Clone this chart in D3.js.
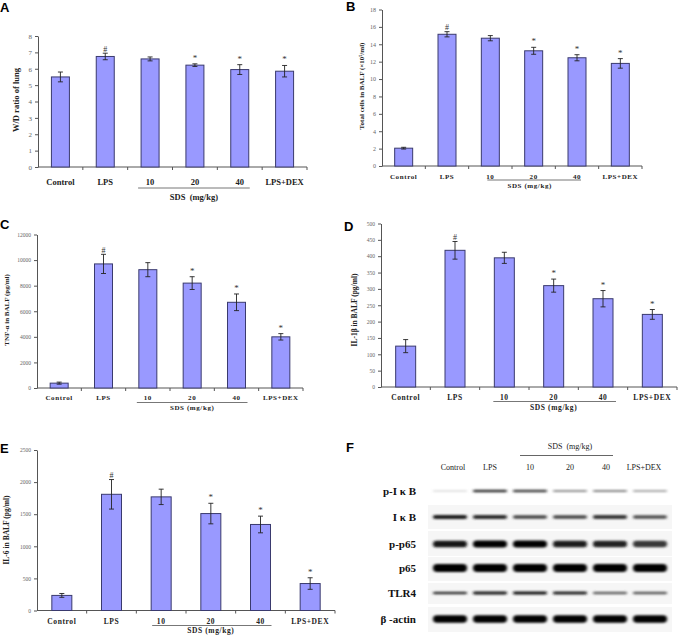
<!DOCTYPE html>
<html><head><meta charset="utf-8">
<script src="https://cdn.jsdelivr.net/npm/d3@7"></script>
<style>body{margin:0;background:#fff}svg{display:block}</style>
</head><body>
<svg id="c" width="680" height="635"></svg>
<script>
// ---------------- data ----------------
const categories = ["Control","LPS","10","20","40","LPS+DEX"];
const sigMarks   = ["","#","","*","*","*"];

const wdRatio    = [5.5, 6.75, 6.6, 6.22, 5.95, 5.85];
const wdErr      = [0.3, 0.2, 0.12, 0.08, 0.3, 0.35];
const wdTicks    = [0,1,2,3,4,5,6,7,8];

const totalCells = [2.05, 15.15, 14.7, 13.25, 12.45, 11.8];
const cellsErr   = [0.1, 0.3, 0.3, 0.4, 0.35, 0.55];
const cellsTicks = [0,2,4,6,8,10,12,14,16,18];

const tnf        = [380, 9700, 9250, 8200, 6700, 4000];
const tnfErr     = [80, 750, 550, 500, 650, 250];
const tnfTicks   = [0,2000,4000,6000,8000,10000,12000];

const il1b       = [125, 418, 395, 310, 270, 222];
const il1bErr    = [20, 27, 17, 20, 25, 15];
const il1bTicks  = [0,50,100,150,200,250,300,350,400,450,500];

const il6        = [235, 1810, 1770, 1510, 1340, 420];
const il6Err     = [30, 230, 120, 160, 130, 90];
const il6Ticks   = [0,500,1000,1500,2000,2500];

// western blot: relative band intensity per lane
const blotProteins = ["p-I\u03BAB","I\u03BAB","p-p65","p65","TLR4","\u03B2-actin"];
const blotLabels   = ["p-I \u03BA B","I \u03BA B","p-p65","p65","TLR4","\u03B2 -actin"];
const pIkB   = [0.08, 0.8, 0.75, 0.4, 0.45, 0.3];
const IkB    = [0.9, 0.82, 0.72, 0.72, 0.78, 0.68];
const pp65   = [0.92, 1.0, 1.0, 0.9, 0.88, 0.78];
const p65    = [1, 1, 1, 1, 1, 1];
const tlr4   = [0.8, 0.9, 0.92, 0.88, 0.6, 0.65];
const bActin = [1, 1, 1, 1, 1, 1];
const blotValues = [pIkB, IkB, pp65, p65, tlr4, bActin];

// ---------------- drawing ----------------
const svg = d3.select("#c");
svg.append("rect").attr("width",680).attr("height",635).attr("fill","#fff");

const serif = "'Liberation Serif','Times New Roman',serif";
const BAR_FILL = "#9999ff", BAR_EDGE = "#3a3a6e";

function barPanel(o){
  const g = svg.append("g");
  const x = d3.scaleBand().domain(categories).range([o.x0, o.x1]);
  const y = d3.scaleLinear().domain([0, d3.max(o.ticks)]).range([o.yb, o.yt]);
  const ya = g.append("g").attr("transform",`translate(${o.x0},0)`)
    .call(d3.axisLeft(y).tickValues(o.ticks).tickFormat(d3.format("d")).tickSize(3).tickPadding(3).tickSizeOuter(0));
  ya.select(".domain").attr("stroke","#555");
  ya.selectAll(".tick line").attr("stroke","#555");
  ya.selectAll(".tick text").attr("fill","#666").attr("font-family",serif).attr("font-size",o.tfs);
  const xa = g.append("g").attr("transform",`translate(0,${o.yb})`);
  xa.append("line").attr("x1",o.x0).attr("x2",o.x1).attr("stroke","#555");
  categories.forEach((c,i)=>{ if(i>0){ const bx = x(c);
    xa.append("line").attr("x1",bx).attr("x2",bx).attr("y1",0).attr("y2",3).attr("stroke","#555");}});
  xa.append("line").attr("x1",o.x1).attr("x2",o.x1).attr("y1",0).attr("y2",3).attr("stroke","#555");
  const cx = c => x(c) + x.bandwidth()/2;
  g.selectAll("rect.bar").data(o.values).join("rect").attr("class","bar")
    .attr("x",(d,i)=>cx(categories[i]) - o.bw/2).attr("width",o.bw)
    .attr("y",d=>y(d)).attr("height",d=>o.yb - y(d))
    .attr("fill",BAR_FILL).attr("stroke",BAR_EDGE).attr("stroke-width",1);
  o.values.forEach((v,i)=>{
    const X = cx(categories[i]), e = o.err[i];
    g.append("line").attr("x1",X).attr("x2",X).attr("y1",y(v+e)).attr("y2",y(v-e)).attr("stroke","#222").attr("stroke-width",0.9);
    [v+e, v-e].forEach(t=>g.append("line").attr("x1",X-2.5).attr("x2",X+2.5).attr("y1",y(t)).attr("y2",y(t)).attr("stroke","#222").attr("stroke-width",0.9));
    if(sigMarks[i]) g.append("text").attr("x",X).attr("y",y(v+e) - (sigMarks[i]==="#"?1.5:3))
      .attr("text-anchor","middle").attr("font-family",serif).attr("font-size",sigMarks[i]==="#"?8:9)
      .attr("fill","#333").text(sigMarks[i]);
  });
  categories.forEach((c,i)=>{
    g.append("text").attr("x",cx(c)).attr("y",o.ly).attr("text-anchor","middle")
      .attr("font-family",serif).attr("font-weight","bold").attr("font-size",o.lfs)
      .attr("letter-spacing",o.ls).attr("fill","#222").text(c);
  });
  g.append("line").attr("x1",cx("10")+o.u0).attr("x2",cx("40")+o.u1).attr("y1",o.uy).attr("y2",o.uy)
    .attr("stroke","#777").attr("stroke-width",1);
  g.append("text").attr("x",(cx("10")+cx("40"))/2 + (o.sdx||0)).attr("y",o.sy).attr("text-anchor","middle")
    .attr("font-family",serif).attr("font-weight","bold").attr("font-size",o.lfs).attr("letter-spacing",o.ls)
    .attr("fill","#222").attr("xml:space","preserve").text(o.sdsText);
  g.append("text").attr("transform",`translate(${o.ylx},${o.yly}) rotate(-90)`).attr("text-anchor","middle")
    .attr("font-family",serif).attr("font-weight","bold").attr("font-size",o.yfs).attr("fill","#222")
    .text(o.ylabel);
  svg.append("text").attr("x",o.px).attr("y",o.py).attr("font-family","'Liberation Sans',Arial,sans-serif")
    .attr("font-weight","bold").attr("font-size",13).attr("fill","#000").text(o.letter);
}

barPanel({letter:"A",px:0,py:12,values:wdRatio,err:wdErr,ticks:wdTicks,x0:38,x1:307,yt:36,yb:167,bw:18,
  tfs:7,ly:185,lfs:8.5,ls:0,u0:-12,u1:10,uy:188,sy:200,sdsText:"SDS  (mg/kg)",sdx:-1,
  ylx:19,yly:100,yfs:8.5,ylabel:"W/D ratio of lung"});
barPanel({letter:"B",px:346,py:11,values:totalCells,err:cellsErr,ticks:cellsTicks,x0:382,x1:642,yt:9.5,yb:166,bw:18,
  tfs:6,ly:179,lfs:7,ls:0.6,u0:-3,u1:4,uy:180,sy:187.5,sdsText:"SDS (mg/kg)",sdx:-4,
  ylx:364,yly:86,yfs:7,ylabel:"Total cells in BALF (\u00D710\u2075/ml)"});
barPanel({letter:"C",px:0,py:229,values:tnf,err:tnfErr,ticks:tnfTicks,x0:37,x1:303,yt:234.5,yb:388,bw:18,
  tfs:5.5,ly:400,lfs:7,ls:0.6,u0:-11,u1:11,uy:402.5,sy:410,sdsText:"SDS (mg/kg)",sdx:0,
  ylx:9,yly:310,yfs:7,ylabel:"TNF-\u03B1 in BALF (pg/ml)"});
barPanel({letter:"D",px:344,py:231,values:il1b,err:il1bErr,ticks:il1bTicks,x0:381,x1:677,yt:223.5,yb:387,bw:20,
  tfs:5.5,ly:400,lfs:7.5,ls:0.6,u0:-11,u1:13,uy:401.5,sy:409.5,sdsText:"SDS (mg/kg)",sdx:0,
  ylx:357,yly:310,yfs:7.5,ylabel:"IL-1\u03B2 in BALF (pg/ml)"});
barPanel({letter:"E",px:0,py:453,values:il6,err:il6Err,ticks:il6Ticks,x0:37,x1:335,yt:450,yb:610.5,bw:20,
  tfs:5.5,ly:624,lfs:7.5,ls:0.6,u0:-9,u1:11,uy:625.5,sy:633,sdsText:"SDS (mg/kg)",sdx:0,
  ylx:9,yly:530,yfs:7.5,ylabel:"IL-6 in BALF (pg/ml)"});

// ---------------- western blot panel F ----------------
(function(){
  const defs = svg.append("defs");
  const f = defs.append("filter").attr("id","blur").attr("x","-20%").attr("y","-100%").attr("width","140%").attr("height","300%");
  f.append("feGaussianBlur").attr("stdDeviation","1.4 0.9");
  const lane = d3.scaleBand().domain(categories).range([430,670]);
  const lc = c => lane(c) + lane.bandwidth()/2;
  const rowY   = [491, 517, 544, 568, 593, 619];
  const rowH   = [2.8, 4.2, 7, 8, 3, 7.5];
  const boxes  = [null,[505,529],[531,556],[557,581],[583,604],[607,632]];
  svg.append("text").attr("x",346).attr("y",452).attr("font-family","'Liberation Sans',Arial,sans-serif")
    .attr("font-weight","bold").attr("font-size",13).text("F");
  svg.append("text").attr("x",(lc("10")+lc("40"))/2).attr("y",449).attr("text-anchor","middle")
    .attr("font-family",serif).attr("font-size",8).attr("xml:space","preserve").attr("fill","#222").text("SDS  (mg/kg)");
  svg.append("line").attr("x1",lc("10")-10).attr("x2",lc("40")+3).attr("y1",455.5).attr("y2",455.5)
    .attr("stroke","#666").attr("stroke-width",1);
  categories.forEach(c=>{
    svg.append("text").attr("x",lc(c) + (c==="Control"?3:c==="LPS+DEX"?-6:c==="40"?-4:0)).attr("y",470).attr("text-anchor","middle")
      .attr("font-family",serif).attr("font-size",8).attr("fill","#222").text(c);
  });
  blotProteins.forEach((p,r)=>{
    if(boxes[r]) svg.append("rect").attr("x",428).attr("y",boxes[r][0]).attr("width",244).attr("height",boxes[r][1]-boxes[r][0]).attr("fill","#f6f6f6");
    svg.append("text").attr("x",416).attr("y",rowY[r]+3.5).attr("text-anchor","end")
      .attr("font-family",serif).attr("font-weight","bold").attr("font-size",11).attr("fill","#111").text(blotLabels[r]);
    const gg = svg.append("g").attr("filter","url(#blur)");
    gg.selectAll("rect").data(blotValues[r]).join("rect")
      .attr("x",(d,i)=>lc(categories[i]) - 17).attr("width",34)
      .attr("y",d=>rowY[r] - rowH[r]*(0.55+0.45*d)/2).attr("height",d=>rowH[r]*(0.55+0.45*d))
      .attr("rx",d=>rowH[r]*(0.55+0.45*d)/2)
      .attr("fill",d=>d3.interpolateRgb("#ececec","#050505")(d));
  });
})();
</script>
</body></html>
